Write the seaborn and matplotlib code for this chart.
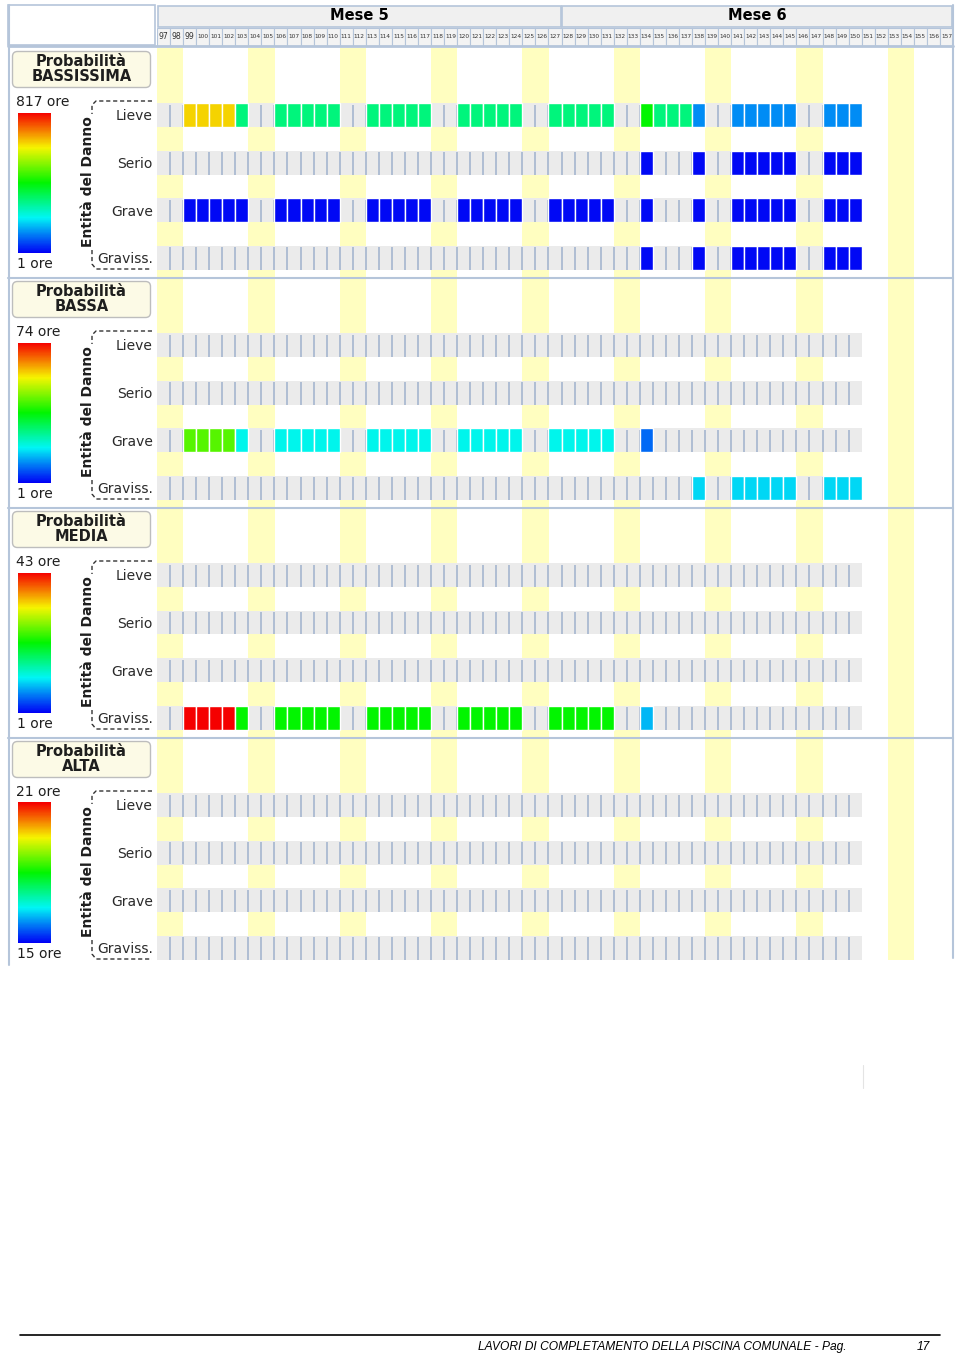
import numpy as np
import matplotlib
matplotlib.use("Agg")
import matplotlib.pyplot as plt
import seaborn as sns
from matplotlib.patches import Rectangle, FancyBboxPatch
from matplotlib.colors import Normalize
from matplotlib.cm import ScalarMappable
from matplotlib import font_manager

sns.set_theme(style="white")
plt.rcParams['font.family'] = ['DejaVu Sans']

W, H = 960, 1356

# ---------------- data ----------------
panel_names = ["BASSISSIMA", "BASSA", "MEDIA", "ALTA"]
damage_levels = ["Lieve", "Serio", "Grave", "Graviss."]
months = ["Mese 5", "Mese 6"]
month_first_day = [97, 128]
month_last_day = [127, 157]
header_days = list(range(97, 158))
task_days = list(range(97, 151))
weekend_days = [97, 98, 104, 105, 111, 112, 118, 119, 125, 126,
                132, 133, 139, 140, 146, 147, 153, 154]
scale_max = [817, 74, 43, 21]
scale_min = [1, 1, 1, 15]

# hours per day (0 = no work), days 97..150
bassissima_lieve = [0, 0,
                    640, 640, 640, 640, 305, 0, 0,
                    305, 305, 305, 305, 305, 0, 0,
                    305, 305, 305, 305, 305, 0, 0,
                    305, 305, 305, 305, 305, 0, 0,
                    305, 305, 305, 305, 305, 0, 0,
                    410, 305, 305, 305, 120, 0, 0,
                    120, 120, 120, 120, 120, 0, 0,
                    120, 120, 120]
bassissima_serio = [0, 0,
                    0, 0, 0, 0, 0, 0, 0,
                    0, 0, 0, 0, 0, 0, 0,
                    0, 0, 0, 0, 0, 0, 0,
                    0, 0, 0, 0, 0, 0, 0,
                    0, 0, 0, 0, 0, 0, 0,
                    8, 0, 0, 0, 8, 0, 0,
                    8, 8, 8, 8, 8, 0, 0,
                    8, 8, 8]
bassissima_grave = [0, 0,
                    8, 8, 8, 8, 8, 0, 0,
                    8, 8, 8, 8, 8, 0, 0,
                    8, 8, 8, 8, 8, 0, 0,
                    8, 8, 8, 8, 8, 0, 0,
                    8, 8, 8, 8, 8, 0, 0,
                    8, 0, 0, 0, 8, 0, 0,
                    8, 8, 8, 8, 8, 0, 0,
                    8, 8, 8]
bassissima_graviss = [0, 0,
                      0, 0, 0, 0, 0, 0, 0,
                      0, 0, 0, 0, 0, 0, 0,
                      0, 0, 0, 0, 0, 0, 0,
                      0, 0, 0, 0, 0, 0, 0,
                      0, 0, 0, 0, 0, 0, 0,
                      8, 0, 0, 0, 8, 0, 0,
                      8, 8, 8, 8, 8, 0, 0,
                      8, 8, 8]
empty_row = [0, 0,
             0, 0, 0, 0, 0, 0, 0,
             0, 0, 0, 0, 0, 0, 0,
             0, 0, 0, 0, 0, 0, 0,
             0, 0, 0, 0, 0, 0, 0,
             0, 0, 0, 0, 0, 0, 0,
             0, 0, 0, 0, 0, 0, 0,
             0, 0, 0, 0, 0, 0, 0,
             0, 0, 0]
bassa_grave = [0, 0,
               44, 44, 44, 44, 20, 0, 0,
               20, 20, 20, 20, 20, 0, 0,
               20, 20, 20, 20, 20, 0, 0,
               20, 20, 20, 20, 20, 0, 0,
               20, 20, 20, 20, 20, 0, 0,
               9, 0, 0, 0, 0, 0, 0,
               0, 0, 0, 0, 0, 0, 0,
               0, 0, 0]
bassa_graviss = [0, 0,
                 0, 0, 0, 0, 0, 0, 0,
                 0, 0, 0, 0, 0, 0, 0,
                 0, 0, 0, 0, 0, 0, 0,
                 0, 0, 0, 0, 0, 0, 0,
                 0, 0, 0, 0, 0, 0, 0,
                 0, 0, 0, 0, 17, 0, 0,
                 17, 17, 17, 17, 17, 0, 0,
                 17, 17, 17]
media_graviss = [0, 0,
                 43, 43, 43, 43, 22, 0, 0,
                 22, 22, 22, 22, 22, 0, 0,
                 22, 22, 22, 22, 22, 0, 0,
                 22, 22, 22, 22, 22, 0, 0,
                 22, 22, 22, 22, 22, 0, 0,
                 9, 0, 0, 0, 0, 0, 0,
                 0, 0, 0, 0, 0, 0, 0,
                 0, 0, 0]

panel_rows = [
    [bassissima_lieve, bassissima_serio, bassissima_grave, bassissima_graviss],
    [empty_row, empty_row, bassa_grave, bassa_graviss],
    [empty_row, empty_row, empty_row, media_graviss],
    [empty_row, empty_row, empty_row, empty_row],
]

# ---------------- style ----------------
cmap = sns.blend_palette(["#0000F5", "#0078F5", "#00F5F5", "#00F57A", "#00F500",
                          "#7AF500", "#F5F500", "#F57A00", "#F50000"], as_cmap=True)
BORDER = "#B5C5DA"
GRAY = "#EBEBEB"
SEP = "#A2B3CE"
YELLOW = "#FFFEC0"
TXT = "#1E1E1E"

fig = plt.figure(figsize=(W / 100, H / 100), dpi=100)


def rect(x0, y0, x1, y1):
    return [x0 / W, 1 - y1 / H, (x1 - x0) / W, (y1 - y0) / H]


bg = fig.add_axes([0, 0, 1, 1])
bg.set_xlim(0, W)
bg.set_ylim(H, 0)
bg.axis("off")

# ---- header ----
bg.add_patch(Rectangle((8, 5), 147, 40, fc="white", ec=BORDER, lw=1.2))
hdr = fig.add_axes(rect(157, 5, 953, 46))
hdr.set_xlim(96.5, 157.5)
hdr.set_ylim(41, 0)
hdr.axis("off")
for name, a, b in zip(months, month_first_day, month_last_day):
    hdr.add_patch(Rectangle((a - 0.5 + 0.05, 0.5), b - a + 1 - 0.1, 21.5,
                            fc="#F0F0F0", ec=BORDER, lw=1.2))
    hdr.text((a + b) / 2, 11, name, ha="center", va="center",
             fontsize=10.5, fontweight="bold", color="black")
for d in header_days:
    hdr.add_patch(Rectangle((d - 0.5, 22.5), 1, 18, fc="#F3F3F3", ec=BORDER, lw=0.8))
    hdr.text(d, 31.8, str(d), ha="center", va="center",
             fontsize=5.6 if d < 100 else 4.2, color="#333333")

# ---- panels ----
UNIT = 47.6
for p, name in enumerate(panel_names):
    top = 48 + 230 * p
    bottom = top + 230 if p < 3 else 960
    ax = fig.add_axes(rect(157, top, 953, bottom))
    ax.set_facecolor("none")
    ax.set_xlim(96.5, 157.5)
    ax.set_ylim((bottom - top - 67) / UNIT, -67 / UNIT)
    for d in weekend_days:
        ax.axvspan(d - 0.51, d + 0.51, color=YELLOW, lw=0, zorder=0)
    norm = Normalize(vmin=scale_min[p], vmax=scale_max[p])
    for r, vals in enumerate(panel_rows[p]):
        ax.barh(r, task_days[-1] - task_days[0] + 1, left=task_days[0] - 0.5,
                height=0.5, color=GRAY, lw=0, zorder=1)
        ax.vlines([d + 0.5 for d in task_days[:-1]], r - 0.22, r + 0.25,
                  color=SEP, lw=1.15, zorder=2)
        nz_days = [d for d, v in zip(task_days, vals) if v > 0]
        nz_vals = [v for v in vals if v > 0]
        if nz_days:
            ax.bar(nz_days, 0.5, bottom=r - 0.25, width=1.0,
                   color=cmap(norm(np.array(nz_vals, dtype=float))),
                   edgecolor="white", lw=1.0, zorder=3)
    ax.set_yticks(range(len(damage_levels)))
    ax.set_yticklabels(damage_levels, fontsize=10, color="#2A2A2A")
    ax.tick_params(axis="y", length=0, pad=3)
    ax.set_xticks([])
    for s in ax.spines.values():
        s.set_visible(False)

    # colour scale
    cax = fig.add_axes(rect(18, top + 64.5, 51, top + 205))
    cb = fig.colorbar(ScalarMappable(norm=norm, cmap=cmap), cax=cax)
    cb.outline.set_visible(False)
    cb.set_ticks([])
    bg.text(16, top + 54, f"{scale_max[p]} ore", fontsize=10, va="center", ha="left", color=TXT)
    bg.text(17, top + 216.5, f"{scale_min[p]} ore", fontsize=10, va="center", ha="left", color=TXT)

    # title box
    bg.add_patch(FancyBboxPatch((14, top + 5), 135, 33,
                                boxstyle="round,pad=1.5,rounding_size=5",
                                fc="#FCFAE6", ec="#BDBDBD", lw=1))
    bg.text(81.5, top + 13.5, "Probabilità", ha="center", va="center",
            fontsize=10.5, fontweight="bold", color=TXT)
    bg.text(81.5, top + 28.5, name, ha="center", va="center",
            fontsize=10.5, fontweight="bold", color=TXT)

    # axis title with dashed bracket
    bg.text(88, top + 134, "Entità del Danno", rotation=90, ha="center", va="center",
            fontsize=10, fontweight="bold", color=TXT)
    dash = (0, (3, 2))
    bg.plot([152, 96, 92, 92], [top + 53, top + 53, top + 57, top + 66],
            ls=dash, color="#333333", lw=1)
    bg.plot([92, 92, 96, 152], [top + 202, top + 216, top + 221, top + 221],
            ls=dash, color="#333333", lw=1)

# ---- overlay borders ----
ov = fig.add_axes([0, 0, 1, 1])
ov.set_xlim(0, W)
ov.set_ylim(H, 0)
ov.axis("off")
ov.set_facecolor("none")
ov.plot([8.5, 8.5], [5, 965], color=BORDER, lw=1.5)
ov.plot([953, 953], [5, 958], color=BORDER, lw=1.5)
ov.plot([8, 953], [46, 46], color=BORDER, lw=2)
for yy in [278, 508, 738]:
    ov.plot([8, 953], [yy, yy], color=BORDER, lw=1.5)
ov.plot([862.5, 862.5], [1065, 1088], color="#E4E4E4", lw=0.8)

# ---- footer ----
names = {f.name for f in font_manager.fontManager.ttflist}
if "Liberation Sans Narrow" in names:
    ffam, fsize = "Liberation Sans Narrow", 10
else:
    ffam, fsize = "Liberation Sans", 8.65
ov.plot([20, 940], [1335, 1335], color="black", lw=1.2)
ov.text(478, 1347, "LAVORI DI COMPLETAMENTO DELLA PISCINA COMUNALE - Pag.",
        ha="left", va="center", fontsize=fsize, family=ffam, style="italic", color="black")
ov.text(930, 1347, "17", ha="right", va="center", fontsize=fsize, family=ffam,
        style="italic", color="black")

fig.savefig("out.png", dpi=100)
